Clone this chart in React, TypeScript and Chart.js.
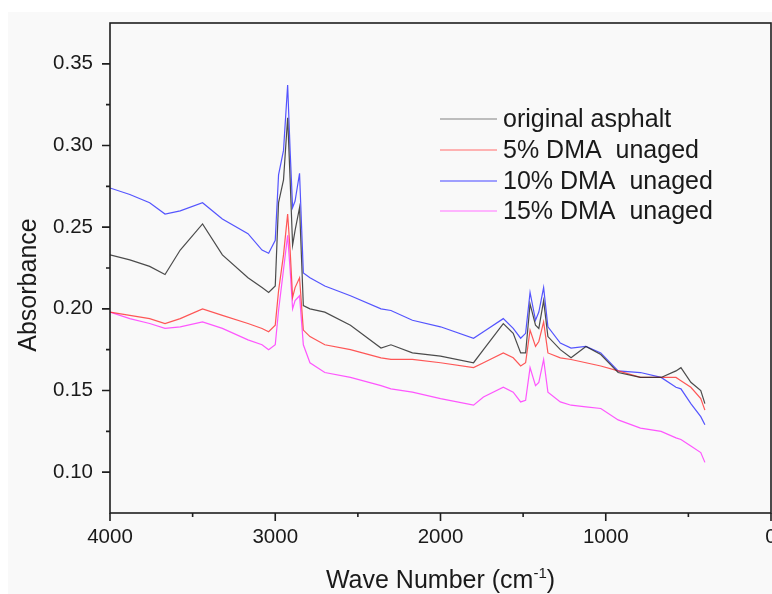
import React, { useEffect, useRef } from "react";
import { Chart, registerables } from "chart.js";

Chart.register(...registerables);

// Wave numbers (cm-1), shared by all spectra
const wavenumbers = [
  4000, 3880, 3760, 3667, 3575, 3440, 3320, 3165, 3080, 3040, 3000, 2980, 2950, 2925, 2910, 2895, 2880,
  2853, 2830, 2790, 2700, 2545, 2360, 2300, 2170, 2000, 1800, 1740, 1620, 1560, 1515, 1485, 1458, 1425,
  1405, 1376, 1350, 1275, 1210, 1120, 1030, 925, 790, 665, 575, 545, 485, 425, 400,
];

const originalAsphalt = [
  0.233, 0.23, 0.226, 0.221, 0.236, 0.252, 0.233, 0.219, 0.213, 0.21, 0.214, 0.265, 0.279, 0.317, 0.279,
  0.239, 0.248, 0.262, 0.202, 0.2, 0.198, 0.19, 0.176, 0.178, 0.173, 0.171, 0.167, 0.175, 0.191, 0.185,
  0.173, 0.173, 0.203, 0.19, 0.188, 0.205, 0.183, 0.175, 0.17, 0.177, 0.172, 0.161, 0.158, 0.158, 0.162,
  0.164, 0.155, 0.15, 0.142,
];

const dma5 = [
  0.198, 0.196, 0.194, 0.191, 0.194, 0.2, 0.196, 0.191, 0.188, 0.186, 0.19, 0.211, 0.233, 0.258, 0.236,
  0.207, 0.213, 0.219, 0.187, 0.183, 0.178, 0.175, 0.17, 0.169, 0.169, 0.167, 0.164, 0.167, 0.173, 0.17,
  0.165, 0.167, 0.187, 0.177, 0.18, 0.192, 0.173, 0.17, 0.169, 0.167, 0.165, 0.162, 0.158, 0.158, 0.158,
  0.156, 0.152, 0.145, 0.138,
];

const dma10 = [
  0.274, 0.27, 0.265, 0.258, 0.26, 0.265, 0.255, 0.246, 0.236, 0.234, 0.242, 0.282, 0.297, 0.337, 0.297,
  0.262, 0.266, 0.283, 0.222, 0.219, 0.214, 0.208, 0.2, 0.199, 0.193, 0.189, 0.182, 0.186, 0.194, 0.188,
  0.182, 0.185, 0.21, 0.193, 0.198, 0.213, 0.189, 0.179, 0.176, 0.177, 0.173, 0.162, 0.161, 0.158, 0.152,
  0.151, 0.142, 0.134, 0.129,
];

const dma15 = [
  0.198, 0.194, 0.191, 0.188, 0.189, 0.192, 0.188, 0.181, 0.178, 0.175, 0.178, 0.199, 0.224, 0.245, 0.224,
  0.2, 0.205, 0.208, 0.178, 0.167, 0.161, 0.158, 0.153, 0.151, 0.149, 0.145, 0.141, 0.146, 0.152, 0.149,
  0.143, 0.144, 0.164, 0.153, 0.155, 0.169, 0.149, 0.143, 0.141, 0.14, 0.139, 0.132, 0.127, 0.125, 0.121,
  0.12, 0.116, 0.112, 0.106,
];

const seriesLabels = ["original asphalt", "5% DMA  unaged", "10% DMA  unaged", "15% DMA  unaged"];
const seriesColors = [
  "rgba(45,45,45,0.85)",
  "rgba(255,45,45,0.8)",
  "rgba(55,55,255,0.85)",
  "rgba(255,45,255,0.8)",
];
const legendColors = ["#a8a8a8", "#ff9a9a", "#8080ff", "#ff9cff"];

const xMajorTicks = [4000, 3000, 2000, 1000, 0];
const xMinorTicks = [3500, 2500, 1500, 500];
const yMajorTicks = [0.1, 0.15, 0.2, 0.25, 0.3, 0.35];
const yMinorTicks = [0.125, 0.175, 0.225, 0.275, 0.325];

const FONT = "'Liberation Sans', Arial, sans-serif";

const decorPlugin = {
  id: "decor",
  beforeDraw(chart: any) {
    const ctx = chart.ctx;
    ctx.save();
    ctx.fillStyle = "#ffffff";
    ctx.fillRect(0, 0, chart.width, chart.height);
    ctx.fillStyle = "#f9f9f9";
    ctx.fillRect(8, 12, chart.width - 8, chart.height - 12);
    ctx.restore();
  },
  afterDraw(chart: any) {
    const ctx = chart.ctx;
    const { left, right, top, bottom } = chart.chartArea;
    const xs = chart.scales.x;
    const ys = chart.scales.y;
    ctx.save();
    ctx.strokeStyle = "#1e1e1e";
    ctx.lineWidth = 1.6;
    ctx.strokeRect(left, top, right - left, bottom - top);
    ctx.beginPath();
    yMajorTicks.forEach((v) => {
      const p = ys.getPixelForValue(v);
      ctx.moveTo(left - 8, p);
      ctx.lineTo(left, p);
    });
    yMinorTicks.forEach((v) => {
      const p = ys.getPixelForValue(v);
      ctx.moveTo(left - 4, p);
      ctx.lineTo(left, p);
    });
    xMajorTicks.forEach((v) => {
      const p = xs.getPixelForValue(v);
      ctx.moveTo(p, bottom);
      ctx.lineTo(p, bottom + 8);
    });
    xMinorTicks.forEach((v) => {
      const p = xs.getPixelForValue(v);
      ctx.moveTo(p, bottom);
      ctx.lineTo(p, bottom + 4);
    });
    ctx.stroke();

    // axis titles
    ctx.fillStyle = "#1a1a1a";
    ctx.textBaseline = "alphabetic";
    const main = "Wave Number (cm";
    const sup = "-1";
    const close = ")";
    ctx.font = `25px ${FONT}`;
    const w1 = ctx.measureText(main).width;
    const w3 = ctx.measureText(close).width;
    ctx.font = `15px ${FONT}`;
    const w2 = ctx.measureText(sup).width;
    const cx = (left + right) / 2;
    const x0 = cx - (w1 + w2 + w3) / 2;
    const base = 588;
    ctx.textAlign = "left";
    ctx.font = `25px ${FONT}`;
    ctx.fillText(main, x0, base);
    ctx.font = `15px ${FONT}`;
    ctx.fillText(sup, x0 + w1, base - 10);
    ctx.font = `25px ${FONT}`;
    ctx.fillText(close, x0 + w1 + w2, base);

    ctx.save();
    ctx.translate(35.5, (top + bottom) / 2 + 17);
    ctx.rotate(-Math.PI / 2);
    ctx.textAlign = "center";
    ctx.font = `25px ${FONT}`;
    ctx.fillText("Absorbance", 0, 0);
    ctx.restore();

    // legend
    const rows = [119, 150, 181, 211];
    ctx.font = `25px ${FONT}`;
    ctx.textAlign = "left";
    ctx.textBaseline = "middle";
    rows.forEach((y, i) => {
      ctx.strokeStyle = legendColors[i];
      ctx.lineWidth = 1.5;
      ctx.beginPath();
      ctx.moveTo(440, y);
      ctx.lineTo(497, y);
      ctx.stroke();
      ctx.fillStyle = "#1a1a1a";
      ctx.fillText(seriesLabels[i], 503, y + 1);
    });
    ctx.restore();
  },
};

export default function App() {
  const ref = useRef<HTMLCanvasElement>(null);
  useEffect(() => {
    const seriesValues = [originalAsphalt, dma5, dma10, dma15];
    const chart = new Chart(ref.current as HTMLCanvasElement, {
      type: "line",
      data: {
        datasets: seriesValues.map((vals, i) => ({
          label: seriesLabels[i],
          data: wavenumbers.map((w, j) => ({ x: w, y: vals[j] })),
          borderColor: seriesColors[i],
          backgroundColor: seriesColors[i],
          borderWidth: 1.2,
          pointRadius: 0,
          tension: 0,
          fill: false,
        })),
      },
      options: {
        animation: false,
        responsive: false,
        maintainAspectRatio: false,
        layout: { padding: { left: 0, right: 1, top: 23, bottom: 0 }, autoPadding: false },
        scales: {
          x: {
            type: "linear",
            reverse: true,
            min: 0,
            max: 4000,
            afterFit: (s: any) => {
              s.height = 81;
              s.paddingLeft = 0;
              s.paddingRight = 0;
              s.paddingTop = 0;
              s.paddingBottom = 0;
            },
            afterBuildTicks: (s: any) => {
              s.ticks = xMajorTicks.map((v) => ({ value: v }));
            },
            ticks: {
              autoSkip: false,
              maxRotation: 0,
              padding: 12,
              color: "#1a1a1a",
              font: { family: FONT, size: 20.5 },
              callback: (v: any) => String(v),
            },
            grid: { display: false, drawTicks: false },
            border: { display: false },
          },
          y: {
            type: "linear",
            min: 0.075,
            max: 0.375,
            afterFit: (s: any) => {
              s.width = 110;
              s.paddingLeft = 0;
              s.paddingRight = 0;
              s.paddingTop = 0;
              s.paddingBottom = 0;
            },
            afterBuildTicks: (s: any) => {
              s.ticks = yMajorTicks.map((v) => ({ value: v }));
            },
            ticks: {
              autoSkip: false,
              padding: 17,
              color: "#1a1a1a",
              font: { family: FONT, size: 20.5 },
              callback: (v: any) => Number(v).toFixed(2),
            },
            grid: { display: false, drawTicks: false },
            border: { display: false },
          },
        },
        plugins: {
          legend: { display: false },
          tooltip: { enabled: false },
        },
      },
      plugins: [decorPlugin],
    });
    return () => chart.destroy();
  }, []);
  return (
    <div style={{ position: "absolute", left: 0, top: 0, width: 772, height: 594, background: "#fff" }}>
      <canvas ref={ref} width={772} height={594} style={{ display: "block", width: 772, height: 594 }} />
    </div>
  );
}
